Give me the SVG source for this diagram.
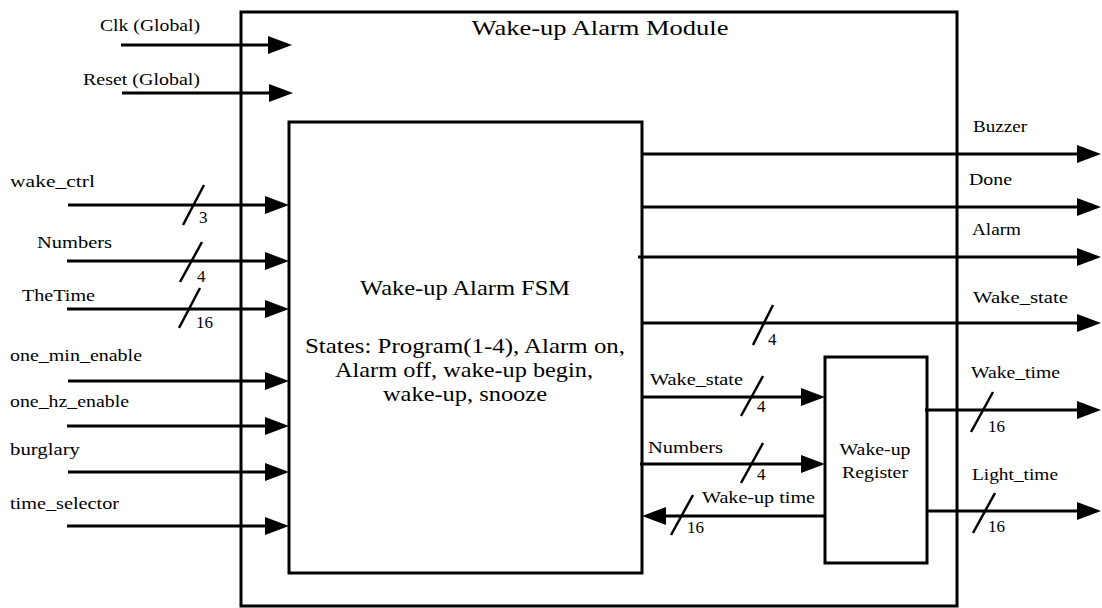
<svg xmlns="http://www.w3.org/2000/svg" width="1102" height="608" viewBox="0 0 1102 608" font-family="'Liberation Serif', 'Times New Roman', serif">
<style>
.box{fill:#fff;stroke:#000;stroke-width:3}
.ln{stroke:#000;stroke-width:3;fill:none}
.arr{marker-end:url(#ah)}
.sl{stroke:#000;stroke-width:2.5;fill:none}
text{font-family:'Liberation Serif','Times New Roman',serif;fill:#000}
.lb{font-size:17px}
.big{font-size:22px}
.mid{text-anchor:middle}
</style>
<defs>
<marker id="ah" markerUnits="userSpaceOnUse" markerWidth="24" markerHeight="18" refX="10" refY="9" orient="auto" overflow="visible">
<path d="M0,0 L24,9 L0,18 z" fill="#000"/>
</marker>
</defs>
<rect width="1102" height="608" fill="#fff"/>

<g id="module">
<rect class="box" x="241" y="12" width="716" height="594"/>
<text class="big mid" x="600" y="35" textLength="257" lengthAdjust="spacingAndGlyphs">Wake-up Alarm Module</text>
</g>

<g id="fsm">
<rect class="box" x="289" y="122" width="353" height="451"/>
<text class="big mid" x="465" y="295" textLength="210" lengthAdjust="spacingAndGlyphs">Wake-up Alarm FSM</text>
<text class="big mid" x="465" y="353" textLength="320" lengthAdjust="spacingAndGlyphs">States: Program(1-4), Alarm on,</text>
<text class="big mid" x="464" y="377" textLength="258" lengthAdjust="spacingAndGlyphs">Alarm off, wake-up begin,</text>
<text class="big mid" x="465" y="401" textLength="164" lengthAdjust="spacingAndGlyphs">wake-up, snooze</text>
</g>

<g id="register">
<rect class="box" x="825" y="357" width="102" height="206"/>
<text class="lb mid" x="875" y="455" textLength="71" lengthAdjust="spacingAndGlyphs">Wake-up</text>
<text class="lb mid" x="875" y="478" textLength="66" lengthAdjust="spacingAndGlyphs">Register</text>
</g>

<g id="connectors">
<line class="ln arr" x1="121" y1="45" x2="278" y2="45"/>
<line class="ln arr" x1="122" y1="93" x2="279" y2="93"/>
<line class="ln arr" x1="68" y1="205" x2="275" y2="205"/>
<line class="ln arr" x1="67" y1="261" x2="275" y2="261"/>
<line class="ln arr" x1="67" y1="309" x2="275" y2="309"/>
<line class="ln arr" x1="68" y1="381" x2="275" y2="381"/>
<line class="ln arr" x1="67" y1="426" x2="275" y2="426"/>
<line class="ln arr" x1="68" y1="472" x2="275" y2="472"/>
<line class="ln arr" x1="67" y1="526" x2="275" y2="526"/>
<line class="ln arr" x1="642" y1="154" x2="1087" y2="154"/>
<line class="ln arr" x1="642" y1="207" x2="1087" y2="207"/>
<line class="ln arr" x1="638" y1="257" x2="1087" y2="257"/>
<line class="ln arr" x1="642" y1="323" x2="1087" y2="323"/>
<line class="ln arr" x1="642" y1="397" x2="811" y2="397"/>
<line class="ln arr" x1="640" y1="464" x2="811" y2="464"/>
<line class="ln arr" x1="825" y1="516" x2="656" y2="516"/>
<line class="ln arr" x1="925" y1="410" x2="1087" y2="410"/>
<line class="ln arr" x1="927" y1="511" x2="1087" y2="511"/>
<line class="sl" x1="183" y1="225" x2="204" y2="185"/>
<line class="sl" x1="180" y1="282" x2="202" y2="242"/>
<line class="sl" x1="179" y1="328" x2="200" y2="288"/>
<line class="sl" x1="753" y1="345" x2="773" y2="305"/>
<line class="sl" x1="741" y1="416" x2="763" y2="376"/>
<line class="sl" x1="741" y1="483" x2="763" y2="443"/>
<line class="sl" x1="671" y1="535" x2="693" y2="495"/>
<line class="sl" x1="971" y1="432" x2="993" y2="392"/>
<line class="sl" x1="973" y1="533" x2="995" y2="493"/>
</g>

<g id="labels">
<text class="lb" x="100" y="31" textLength="100" lengthAdjust="spacingAndGlyphs">Clk (Global)</text>
<text class="lb" x="83" y="85" textLength="117" lengthAdjust="spacingAndGlyphs">Reset (Global)</text>
<text class="lb" x="10" y="187" textLength="85" lengthAdjust="spacingAndGlyphs">wake_ctrl</text>
<text class="lb" x="37" y="248" textLength="75" lengthAdjust="spacingAndGlyphs">Numbers</text>
<text class="lb" x="22" y="301" textLength="73" lengthAdjust="spacingAndGlyphs">TheTime</text>
<text class="lb" x="10" y="361" textLength="132" lengthAdjust="spacingAndGlyphs">one_min_enable</text>
<text class="lb" x="10" y="407" textLength="119" lengthAdjust="spacingAndGlyphs">one_hz_enable</text>
<text class="lb" x="10" y="455" textLength="70" lengthAdjust="spacingAndGlyphs">burglary</text>
<text class="lb" x="10" y="509" textLength="109" lengthAdjust="spacingAndGlyphs">time_selector</text>
<text class="lb" x="199" y="223">3</text>
<text class="lb" x="197" y="282">4</text>
<text class="lb" x="196" y="328">16</text>

<text class="lb" x="973" y="132" textLength="54" lengthAdjust="spacingAndGlyphs">Buzzer</text>
<text class="lb" x="969" y="185" textLength="43" lengthAdjust="spacingAndGlyphs">Done</text>
<text class="lb" x="972" y="235" textLength="49" lengthAdjust="spacingAndGlyphs">Alarm</text>
<text class="lb" x="973" y="303" textLength="95" lengthAdjust="spacingAndGlyphs">Wake_state</text>
<text class="lb" x="768" y="345">4</text>

<text class="lb" x="650" y="385" textLength="93" lengthAdjust="spacingAndGlyphs">Wake_state</text>
<text class="lb" x="757" y="412">4</text>
<text class="lb" x="648" y="453" textLength="75" lengthAdjust="spacingAndGlyphs">Numbers</text>
<text class="lb" x="757" y="480">4</text>
<text class="lb" x="702" y="503" textLength="113" lengthAdjust="spacingAndGlyphs">Wake-up time</text>
<text class="lb" x="687" y="533">16</text>

<text class="lb" x="971" y="378" textLength="89" lengthAdjust="spacingAndGlyphs">Wake_time</text>
<text class="lb" x="988" y="432">16</text>
<text class="lb" x="972" y="480" textLength="86" lengthAdjust="spacingAndGlyphs">Light_time</text>
<text class="lb" x="988" y="532">16</text>
</g>
</svg>
